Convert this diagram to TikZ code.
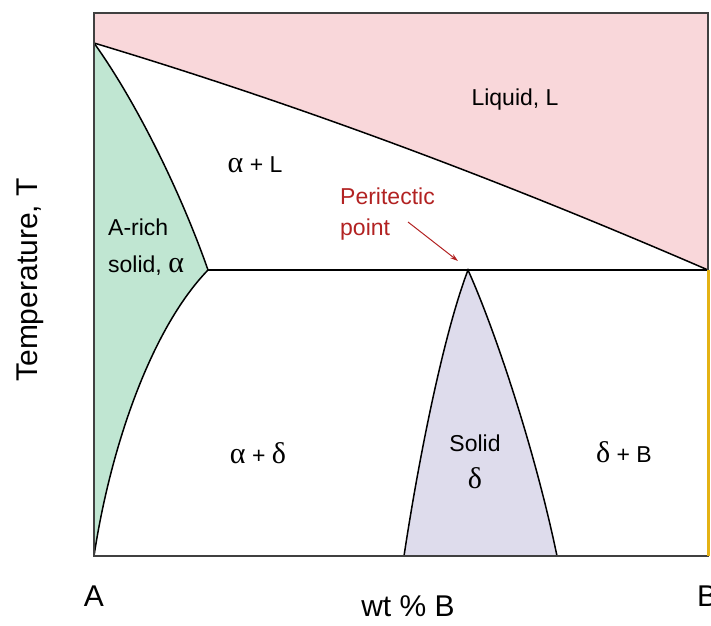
\documentclass[tikz,border=0pt]{standalone}
\usepackage{fontspec}
\setmainfont{Liberation Sans}
\newfontfamily\greekfont{Liberation Serif}
\usetikzlibrary{arrows.meta, positioning, calc}
\newcommand{\galpha}{{\greekfont\fontsize{30}{37}\selectfont α}}
\newcommand{\gdelta}{{\greekfont\fontsize{30}{37}\selectfont δ}}
\definecolor{liqpink}{RGB}{249,215,218}
\definecolor{alphagreen}{RGB}{192,230,210}
\definecolor{deltalav}{RGB}{222,220,236}
\definecolor{perired}{RGB}{178,34,34}
\definecolor{edgeyellow}{RGB}{228,178,20}
\tikzset{
  phase/.style = {
    font=\fontsize{23}{37}\selectfont, text=black, inner sep=0pt
  },
  axislabel/.style = {
    font=\fontsize{30}{36}\selectfont, inner sep=0pt
  },
  boundary/.style = {draw=black, line width=1.5pt},
  frameline/.style = {draw=black!75, line width=2pt},
  myarrow/.style = {-{Stealth[length=8pt, width=5pt]}, draw=perired, line width=1pt}
}

\begin{document}
\begin{tikzpicture}[x=1pt, y=1pt]
  \useasboundingbox (0,0) rectangle (711,625);
  % Key points of the diagram
  \coordinate (origin) at (94,69);
  \coordinate (topA)   at (94,582);
  \coordinate (meltB)  at (708,355);
  \coordinate (alphaP) at (208,355);
  \coordinate (peri)   at (468,355);
  \coordinate (deltaL) at (404,69);
  \coordinate (deltaR) at (557,69);
  % Phase fields
  \fill[liqpink] (94,612) -- (708,612) -- (meltB)
    .. controls (500,445) and (300,520) .. (topA) -- cycle;
  \fill[alphagreen] (topA) -- (origin)
    .. controls (110,175) and (150,295) .. (alphaP)
    .. controls (180,435) and (135,525) .. (topA) -- cycle;
  \fill[deltalav] (deltaL)
    .. controls (420,175) and (445,295) .. (peri)
    .. controls (495,295) and (535,175) .. (deltaR) -- cycle;
  % Phase boundaries
  \draw[boundary] (topA) .. controls (300,520) and (500,445) .. (meltB);
  \draw[boundary] (topA) .. controls (135,525) and (180,435) .. (alphaP);
  \draw[boundary] (alphaP) .. controls (150,295) and (110,175) .. (origin);
  \draw[boundary] (alphaP) -- (meltB);
  \draw[boundary] (deltaL) .. controls (420,175) and (445,295) .. (peri)
    .. controls (495,295) and (535,175) .. (deltaR);
  % Frame
  \draw[frameline] (94,612) rectangle (708,69);
  \draw[draw=edgeyellow, line width=3pt] (meltB) -- (708,69);
  % Labels
  \node[phase] (liquid) at (515,525) {Liquid, L};
  \node[phase] (alphaL) at (255,460) {\galpha{} + L};
  \node[phase, align=left, anchor=west] (arich) at (108,378)
    {A-rich\\solid, \galpha};
  \node[phase, text=perired, align=left, anchor=west,
        font=\fontsize{23}{31}\selectfont] (perilabel) at (340,411)
    {Peritectic\\point};
  \node[phase] (alphadelta) at (258,172) {\galpha{} + \gdelta};
  \node[phase, align=center] (solid) at (475,163) {Solid\\\gdelta};
  \node[phase] (deltaB) at (624,173) {\gdelta{} + B};
  % Axes
  \node[axislabel] (labA) at (94,29) {A};
  \node[axislabel] (labB) at (707,29) {B};
  \node[axislabel] (xlabel) at (408,19) {wt \% B};
  \node[axislabel, rotate=90] (ylabel) at (30,345) {Temperature, T};
  % Arrow to peritectic point
  \coordinate (arrtail) at ($(perilabel.west)+(68,-8)$);
  \coordinate (arrhead) at (458,364);
  \draw[myarrow] (arrtail) -- (arrhead);
\end{tikzpicture}
\end{document}
